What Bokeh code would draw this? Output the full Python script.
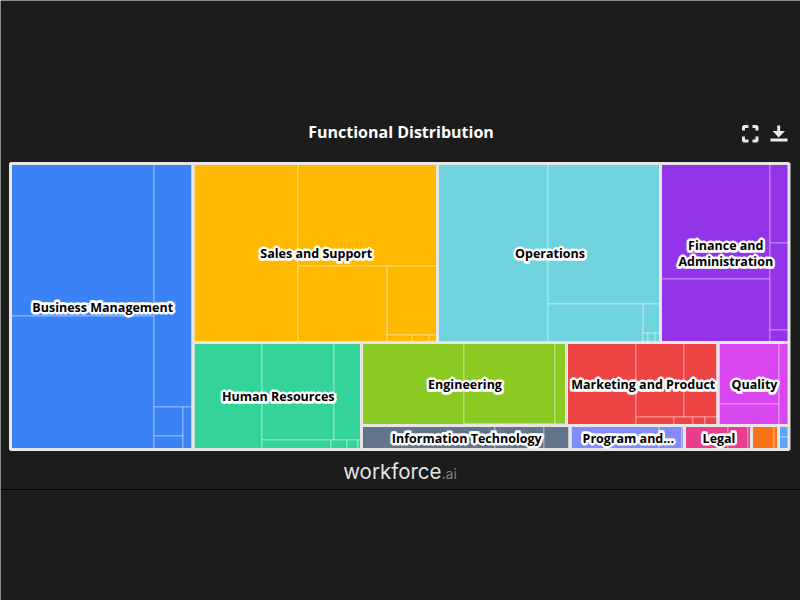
from bokeh.core.properties import value
from bokeh.embed import file_html
from bokeh.models import ColumnDataSource, Range1d
from bokeh.plotting import figure
from bokeh.resources import INLINE

functions = ["Business Management", "Sales and Support", "Operations", "Finance and\nAdministration",
             "Human Resources", "Engineering", "Marketing and Product", "Quality",
             "Information Technology", "Program and...", "Legal", "", ""]
colors = ["#3b82f6", "#ffb900", "#6ed2df", "#9333ea", "#34d399", "#8bca22", "#ef4444", "#d946ef",
          "#64748b", "#818cf8", "#e83e8c", "#f97316", "#60a5fa"]
business = [21808, 19091, 9579, 826, 413, 478]
sales = [18706, 14280, 6853, 3519, 200, 136, 72]
operations = [19690, 15820, 3686, 527, 53, 73, 68]
finance = [12647, 6953, 1501, 1653, 247]
human_resources = [7383, 6936, 2716, 685, 160, 105, 45]
engineering = [8425, 7326, 1006, 105, 100, 53]
marketing = [5727, 3552, 2553, 342, 171, 108, 121]
quality = [3721, 1301, 872]
information_technology = [3192, 1176, 636]
program = [2124, 540, 84]
legal = [1020, 500, 88]
other_orange = [528, 120]
other_blue = [118, 134]
leaf_values = [business, sales, operations, finance, human_resources, engineering, marketing, quality,
               information_technology, program, legal, other_orange, other_blue]
title_text = "Functional Distribution"

BG = "#1c1c1c"
PLOT = (10.0, 163.0, 778.5, 286.0)


def ratio(a, b):
    return max(a / b, b / a)


def snap(v):
    return round(v) + 0.5


class Group:
    def __init__(self, x, y, w, h):
        self.px, self.py, self.pw, self.ph = x, y, w, h
        self.x, self.y, self.w, self.h = x, y, w, h
        self.d = 0
        self.total = self.nW = self.lW = self.nH = self.lH = 0.0
        self.el = []
        self.lR = self.nR = None

    def add(self, v):
        last = self.el[-1] if self.el else None
        self.total += v
        if self.d == 0:
            self.lW = self.nW
            self.nW = self.total / self.h
            if last is not None:
                self.lR = ratio(self.lW, last / self.lW)
                self.nR = ratio(self.nW, last / self.nW)
            else:
                self.lR = self.nR = None
        else:
            self.lH = self.nH
            self.nH = self.total / self.w
            if last is not None:
                self.lR = ratio(last / self.lH, self.lH)
                self.nR = ratio(last / self.nH, self.nH)
            else:
                self.lR = self.nR = None
        self.el.append(v)


def flush(g, out, last):
    gw, gh = (g.nW, g.nH) if last else (g.lW, g.lH)
    keep = None if last else g.el[-1]
    items = g.el if last else g.el[:-1]
    for v in items:
        if g.d == 0:
            pw, ph = gw, v / gw
            out.append((g.x, g.y, pw, ph))
            g.y += ph
        else:
            ph, pw = gh, v / gh
            out.append((g.x, g.y, pw, ph))
            g.x += pw
    g.total = g.nW = g.nH = 0.0
    g.el = []
    if g.d == 0:
        g.w -= gw
    else:
        g.h -= gh
    g.y = g.py + (g.ph - g.h)
    g.x = g.px + (g.pw - g.w)
    g.d = 1 - g.d
    if not last:
        g.add(keep)


def layout(rect, values):
    x, y, w, h = rect
    s = float(sum(values))
    g = Group(x, y, w, h)
    out = []
    for i, v in enumerate(values):
        g.add(w * h * v / s)
        if g.nR is not None and g.nR > g.lR:
            flush(g, out, False)
        if i == len(values) - 1:
            flush(g, out, True)
    return out


group_rects = layout(PLOT, [sum(v) for v in leaf_values])

leaf = dict(left=[], right=[], top=[], bottom=[], color=[])
for rect, vals, col in zip(group_rects, leaf_values, colors):
    for (x, y, w, h) in layout(rect, vals):
        leaf["left"].append(snap(x))
        leaf["right"].append(snap(x + w))
        leaf["top"].append(snap(y))
        leaf["bottom"].append(snap(y + h))
        leaf["color"].append(col)

grp = dict(left=[r[0] for r in group_rects], right=[r[0] + r[2] for r in group_rects],
           top=[r[1] for r in group_rects], bottom=[r[1] + r[3] for r in group_rects])
lab = dict(x=[r[0] + r[2] / 2 for r in group_rects], y=[r[1] + r[3] / 2 for r in group_rects], text=functions)

p = figure(width=800, height=600, output_backend="svg", toolbar_location=None, title=None,
           x_range=Range1d(0, 800), y_range=Range1d(600, 0), min_border=0,
           background_fill_color=BG, border_fill_color=BG, outline_line_color=None)
p.axis.visible = False
p.grid.visible = False

p.quad(left="left", right="right", top="top", bottom="bottom", fill_color="color", line_color="#ffffff",
       line_alpha=0.4, line_width=1, source=ColumnDataSource(leaf))
p.quad(left="left", right="right", top="top", bottom="bottom", fill_color=None, line_color="#e6e6e6",
       line_width=3, source=ColumnDataSource(grp))

src = ColumnDataSource(lab)
LABEL_FONT = dict(text_align="center", text_baseline="middle", text_font=value("Open Sans"), text_font_style="bold",
                  text_font_size="12.5px", text_line_height=0.95)
for dx, dy in [(-2, 0), (2, 0), (0, -2), (0, 2), (-1.4, -1.4), (1.4, -1.4), (-1.4, 1.4), (1.4, 1.4)]:
    p.text(x="x", y="y", text="text", source=src, x_offset=dx + 1, y_offset=dy + 0.7, text_color="#ffffff",
           text_outline_color="#ffffff", **LABEL_FONT)
p.text(x="x", y="y", text="text", source=src, x_offset=1, y_offset=0.7, text_color="#000000", **LABEL_FONT)

p.text(x=[400.5], y=[131.5], text=[title_text], text_align="center", text_baseline="middle", text_color="#ffffff",
       text_font=value("Open Sans"), text_font_style="bold", text_font_size="16px")
p.text(x=[441], y=[471], text=["workforce"], text_align="right", text_baseline="middle", text_color="#e4e4e4",
       text_font=value("Inter"), text_font_size="20.5px")
p.text(x=[441], y=[473], text=[".ai"], text_align="left", text_baseline="middle", text_color="#808080",
       text_font=value("Inter"), text_font_size="14px")

# footer rule
p.segment(x0=[0], x1=[800], y0=[489], y1=[489], line_color="#050505", line_width=1)

# fullscreen icon
ic = "#e8e8e8"
p.multi_line(xs=[[743, 743, 748], [752, 756.5, 756.5], [743, 743, 748], [752, 756.5, 756.5]],
             ys=[[130, 126, 126], [126, 126, 130], [136, 140.5, 140.5], [140.5, 140.5, 136]],
             line_color=ic, line_width=3)
# download icon
p.patch(x=[776.7, 779.7, 779.7, 784.5, 778.2, 772, 776.7], y=[125, 125, 130.5, 130.5, 137, 130.5, 130.5],
        fill_color=ic, line_color=None)
p.quad(left=[770], right=[787], top=[138], bottom=[141], fill_color=ic, line_color=None)

open("out.html", "w").write(file_html(p, INLINE))
